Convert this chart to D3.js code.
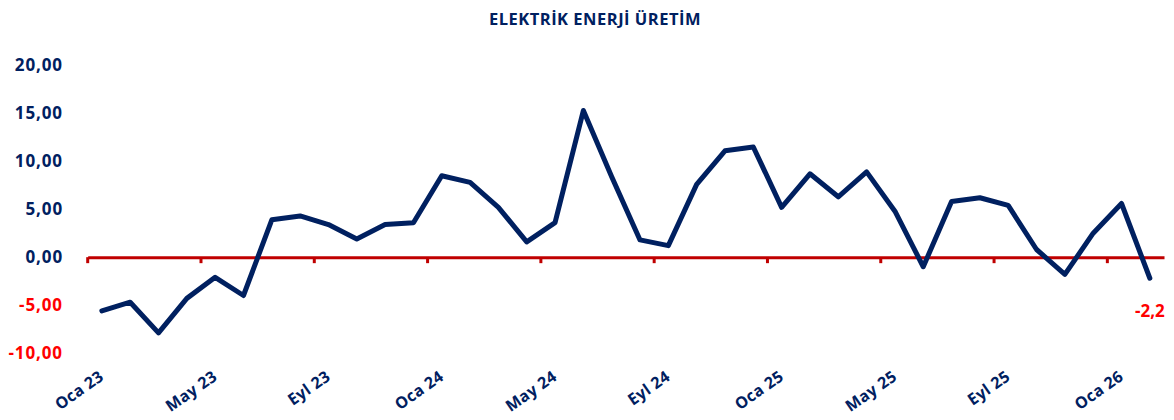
<!DOCTYPE html>
<html>
<head>
<meta charset="utf-8">
<script src="https://cdn.jsdelivr.net/npm/d3@7"></script>
<style>
  body { margin: 0; background: #fff; }
  svg { display: block; font-family: "Open Sans", "Noto Sans", sans-serif; font-weight: bold; }
</style>
</head>
<body>
<script>
// monthly categories, Oca 23 .. Şub 26
const months = ["Oca 23","Şub 23","Mar 23","Nis 23","May 23","Haz 23","Tem 23","Ağu 23","Eyl 23","Eki 23","Kas 23","Ara 23",
  "Oca 24","Şub 24","Mar 24","Nis 24","May 24","Haz 24","Tem 24","Ağu 24","Eyl 24","Eki 24","Kas 24","Ara 24",
  "Oca 25","Şub 25","Mar 25","Nis 25","May 25","Haz 25","Tem 25","Ağu 25","Eyl 25","Eki 25","Kas 25","Ara 25",
  "Oca 26","Şub 26"];

// annual % change
const uretim = [-5.6, -4.7, -7.9, -4.3, -2.1, -4.0, 3.9, 4.3, 3.4, 1.9, 3.4, 3.6,
  8.5, 7.8, 5.2, 1.6, 3.6, 15.3, 8.4, 1.8, 1.2, 7.6, 11.1, 11.5,
  5.2, 8.7, 6.3, 8.9, 4.8, -1.0, 5.8, 6.2, 5.4, 0.8, -1.8, 2.5,
  5.6, -2.2];

const yTicks = [-10, -5, 0, 5, 10, 15, 20];
const title = "ELEKTRİK ENERJİ ÜRETİM";

const W = 1174, H = 420;
const navy = "#002060", darkRed = "#c00000", red = "#ff0000";

// comma decimals, plain hyphen for minus
const fmt = p => v => d3.format("." + p + "f")(v).replace("−", "-").replace(".", ",");

const svg = d3.select("body").append("svg")
  .attr("width", W).attr("height", H);

// scales
const x = d3.scaleBand().domain(months).range([87.7, 1164]).paddingInner(0).paddingOuter(0);
const y = d3.scaleLinear().domain([-10, 20]).range([353, 65.5]);
const cx = d => x(d) + x.bandwidth() / 2;

// title
svg.append("text")
  .attr("x", 595).attr("y", 25)
  .attr("text-anchor", "middle")
  .attr("fill", navy)
  .style("font-size", "16.5px")
  .style("letter-spacing", "0.5px")
  .text(title);

// y labels (no axis line)
svg.append("g").selectAll("text")
  .data(yTicks)
  .join("text")
  .attr("x", 63)
  .attr("y", d => y(d))
  .attr("dy", "0.35em")
  .attr("text-anchor", "end")
  .attr("fill", d => d < 0 ? red : navy)
  .style("font-size", "17px")
  .style("letter-spacing", "0.9px")
  .text(fmt(2));

// zero axis with ticks between categories
const axis = d3.axisBottom(x)
  .tickValues(months.filter((m, i) => i % 4 === 0))
  .tickSize(6)
  .tickSizeOuter(0)
  .tickFormat("");

const gx = svg.append("g")
  .attr("transform", "translate(0," + y(0) + ")")
  .call(axis);
gx.select(".domain").attr("stroke", darkRed).attr("stroke-width", 3);
gx.selectAll(".tick").attr("transform", d => "translate(" + x(d) + ",0)");
gx.selectAll(".tick line").attr("stroke", darkRed).attr("stroke-width", 3);

// rotated category labels
svg.append("g").selectAll("text")
  .data(months.filter((m, i) => i % 4 === 0))
  .join("text")
  .attr("transform", d => "translate(" + (cx(d) + 3) + ",379) rotate(-35)")
  .attr("text-anchor", "end")
  .attr("fill", navy)
  .style("font-size", "16px")
  .style("letter-spacing", "0.3px")
  .text(d => d);

// the line
const line = d3.line()
  .x((d, i) => cx(months[i]))
  .y(d => y(d));

svg.append("path")
  .datum(uretim)
  .attr("d", line)
  .attr("fill", "none")
  .attr("stroke", navy)
  .attr("stroke-width", 5)
  .attr("stroke-linejoin", "round")
  .attr("stroke-linecap", "round");

// last value label
const last = uretim.length - 1;
svg.append("text")
  .attr("x", cx(months[last]))
  .attr("y", y(uretim[last]) + 39)
  .attr("text-anchor", "middle")
  .attr("fill", red)
  .style("font-size", "17px")
  .text(fmt(1)(uretim[last]));
</script>
</body>
</html>
